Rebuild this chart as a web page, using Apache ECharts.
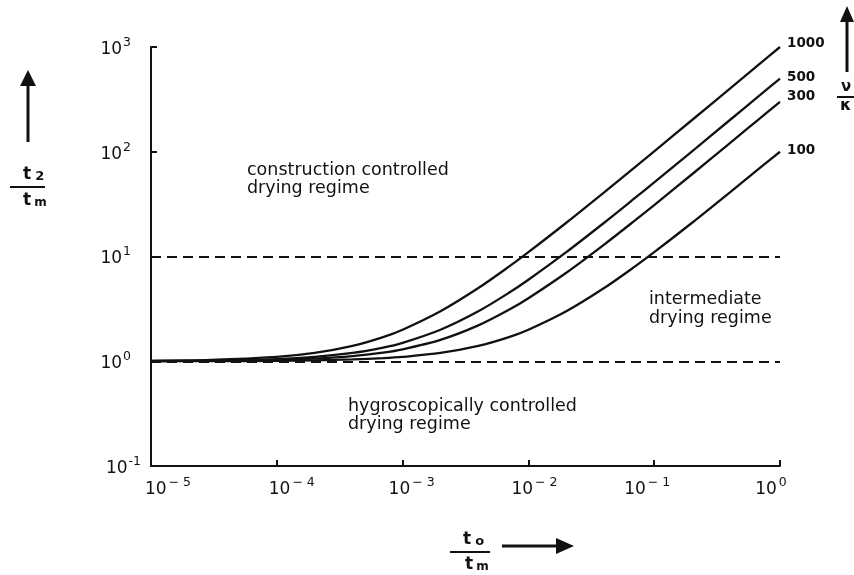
<!DOCTYPE html>
<html>
<head>
<meta charset="utf-8">
<script src="https://cdn.jsdelivr.net/npm/echarts@6/dist/echarts.min.js"></script>
<style>
html,body{margin:0;padding:0;background:#fff;}
#main{width:854px;height:575px;}
</style>
</head>
<body>
<div id="main"></div>
<script>
// ---- data ----
var ratioX = [1e-5, 3e-5, 1e-4, 2e-4, 4e-4, 7e-4, 1e-3, 2e-3, 4e-3, 7e-3, 1e-2, 2e-2, 4e-2, 7e-2, 1e-1, 2e-1, 4e-1, 7e-1, 1];
var curve1000 = [1.01, 1.03, 1.1, 1.2, 1.4, 1.7, 2.0, 3.0, 5.0, 8.0, 11, 21, 41, 71, 101, 201, 401, 701, 1000];
var curve500  = [1.005, 1.015, 1.05, 1.1, 1.2, 1.35, 1.5, 2.0, 3.0, 4.5, 6.0, 11, 21, 36, 51, 101, 201, 351, 500];
var curve300  = [1.003, 1.01, 1.03, 1.06, 1.12, 1.21, 1.3, 1.6, 2.2, 3.1, 4.0, 7.0, 13, 22, 31, 61, 121, 211, 300];
var curve100  = [1.001, 1.003, 1.01, 1.02, 1.04, 1.07, 1.1, 1.2, 1.4, 1.7, 2.0, 3.0, 5.0, 8.0, 11, 21, 41, 71, 100];
var curveNames = ['1000', '500', '300', '100'];
var regimeBounds = [10, 1];
var xTickExp = {'-5': '− 5', '-4': '− 4', '-3': '− 3', '-2': '− 2', '-1': '− 1', '0': '0'};
var yTickExp = {'-1': '-1', '0': '0', '1': '1', '2': '2', '3': '3'};

// ---- styling ----
var FONT = 'DejaVu Sans';
var INK = '#111';
var labelNudge = [-4, -1, -5, -1];
// per-tick label padding [left, right] to mimic the hand-lettered placement
var xLabelPad = {'-5': [34, 0], '-4': [30, 0], '-3': [18, 0], '-2': [12, 0], '-1': [0, 14], '0': [0, 18]};
var yLabelPad = {'-1': 0, '0': 10, '1': 10, '2': 10, '3': 10};

function pairs(ys) { return ratioX.map(function (x, i) { return [x, ys[i]]; }); }
function expKey(v) { return String(Math.round(Math.log(v) / Math.LN10)); }

var chart = echarts.init(document.getElementById('main'));

var curves = [curve1000, curve500, curve300, curve100];
var series = curves.map(function (ys, i) {
  return {
    type: 'line', name: curveNames[i], data: pairs(ys),
    showSymbol: false, smooth: 0.3, silent: true,
    lineStyle: { color: INK, width: 2.3 },
    endLabel: {
      show: true, formatter: curveNames[i], color: INK,
      fontFamily: FONT, fontWeight: 'bold', fontSize: 13.5, distance: 7,
      offset: [0, labelNudge[i]]
    }
  };
});
series[0].markLine = {
  silent: true, symbol: ['none', 'none'], label: { show: false },
  lineStyle: { color: INK, width: 2, type: [10, 6] },
  data: regimeBounds.map(function (v) { return { yAxis: v }; })
};

var xRich = {}, yRich = {};
Object.keys(xLabelPad).forEach(function (k, i) {
  var p = xLabelPad[k];
  xRich['b' + i] = { fontFamily: FONT, fontSize: 17, color: INK, verticalAlign: 'bottom', lineHeight: 22, padding: [0, 0, 0, p[0]] };
  xRich['s' + i] = { fontFamily: FONT, fontSize: 12.5, color: INK, verticalAlign: 'top', lineHeight: 22, padding: [0, p[1], 8, 2] };
});
Object.keys(yLabelPad).forEach(function (k, i) {
  yRich['b' + i] = { fontFamily: FONT, fontSize: 17, color: INK, verticalAlign: 'bottom', lineHeight: 22 };
  yRich['s' + i] = { fontFamily: FONT, fontSize: 12.5, color: INK, verticalAlign: 'top', lineHeight: 22, padding: [0, yLabelPad[k], 8, 1] };
});

chart.setOption({
  animation: false,
  backgroundColor: '#fff',
  grid: { left: 151, right: 74, top: 47, bottom: 109, containLabel: false },
  xAxis: {
    type: 'log', logBase: 10, min: 1e-5, max: 1,
    axisLine: { show: true, onZero: false, lineStyle: { color: INK, width: 2 } },
    axisTick: { show: true, inside: true, length: 6, lineStyle: { color: INK, width: 2 } },
    minorTick: { show: false },
    splitLine: { show: false },
    axisLabel: {
      margin: 10, color: INK,
      formatter: function (v) {
        var k = expKey(v), i = Object.keys(xLabelPad).indexOf(k);
        return '{b' + i + '|10}{s' + i + '|' + xTickExp[k] + '}';
      },
      rich: xRich
    }
  },
  yAxis: {
    type: 'log', logBase: 10, min: 0.1, max: 1000,
    axisLine: { show: true, onZero: false, lineStyle: { color: INK, width: 2 } },
    axisTick: { show: true, inside: true, length: 6, lineStyle: { color: INK, width: 2 } },
    minorTick: { show: false },
    splitLine: { show: false },
    axisLabel: {
      margin: 10, color: INK,
      formatter: function (v) {
        var k = expKey(v), i = Object.keys(yLabelPad).indexOf(k);
        return '{b' + i + '|10}{s' + i + '|' + yTickExp[k] + '}';
      },
      rich: yRich
    }
  },
  series: series,
  graphic: [
    // region annotations
    { type: 'text', left: 247, top: 161, style: { text: 'construction controlled\ndrying regime', font: '17.5px "DejaVu Sans"', fill: INK, lineHeight: 18 } },
    { type: 'text', left: 649, top: 290, style: { text: 'intermediate\ndrying regime', font: '17.5px "DejaVu Sans"', fill: INK, lineHeight: 19 } },
    { type: 'text', left: 348, top: 397, style: { text: 'hygroscopically controlled\ndrying regime', font: '17.5px "DejaVu Sans"', fill: INK, lineHeight: 18 } },
    // y-axis title arrow and fraction
    { type: 'line', shape: { x1: 28, y1: 142, x2: 28, y2: 84 }, style: { stroke: INK, lineWidth: 3 } },
    { type: 'polygon', shape: { points: [[28, 70], [20, 86], [36, 86]] }, style: { fill: INK } },
    { type: 'text', left: 23, top: 166, style: { text: '{t|t}{s|2}', rich: { t: { font: 'bold 17px "DejaVu Sans"', fill: INK, padding: [0, 4, 0, 0] }, s: { font: 'bold 13px "DejaVu Sans"', fill: INK, verticalAlign: 'bottom' } } } },
    { type: 'line', shape: { x1: 10, y1: 187, x2: 45, y2: 187 }, style: { stroke: INK, lineWidth: 2 } },
    { type: 'text', left: 23, top: 192, style: { text: '{t|t}{s|m}', rich: { t: { font: 'bold 17px "DejaVu Sans"', fill: INK, padding: [0, 3, 0, 0] }, s: { font: 'bold 12px "DejaVu Sans"', fill: INK, verticalAlign: 'bottom', padding: [4, 0, 0, 0] } } } },
    // x-axis title fraction and arrow
    { type: 'text', left: 463, top: 531, style: { text: '{t|t}{s|o}', rich: { t: { font: 'bold 17px "DejaVu Sans"', fill: INK, padding: [0, 4, 0, 0] }, s: { font: 'bold 13px "DejaVu Sans"', fill: INK, verticalAlign: 'bottom' } } } },
    { type: 'line', shape: { x1: 450, y1: 552, x2: 490, y2: 552 }, style: { stroke: INK, lineWidth: 2 } },
    { type: 'text', left: 465, top: 556, style: { text: '{t|t}{s|m}', rich: { t: { font: 'bold 17px "DejaVu Sans"', fill: INK, padding: [0, 3, 0, 0] }, s: { font: 'bold 12px "DejaVu Sans"', fill: INK, verticalAlign: 'bottom', padding: [4, 0, 0, 0] } } } },
    { type: 'line', shape: { x1: 502, y1: 546, x2: 558, y2: 546 }, style: { stroke: INK, lineWidth: 3 } },
    { type: 'polygon', shape: { points: [[574, 546], [556, 538], [556, 554]] }, style: { fill: INK } },
    // right-hand parameter arrow and fraction
    { type: 'line', shape: { x1: 847, y1: 72, x2: 847, y2: 20 }, style: { stroke: INK, lineWidth: 3 } },
    { type: 'polygon', shape: { points: [[847, 6], [840, 22], [854, 22]] }, style: { fill: INK } },
    { type: 'text', left: 841, top: 80, style: { text: 'ν', font: 'bold 15px "DejaVu Sans"', fill: INK } },
    { type: 'line', shape: { x1: 837, y1: 97, x2: 854, y2: 97 }, style: { stroke: INK, lineWidth: 2 } },
    { type: 'text', left: 840, top: 98, style: { text: 'κ', font: 'bold 16px "DejaVu Sans"', fill: INK } }
  ]
});
</script>
</body>
</html>
